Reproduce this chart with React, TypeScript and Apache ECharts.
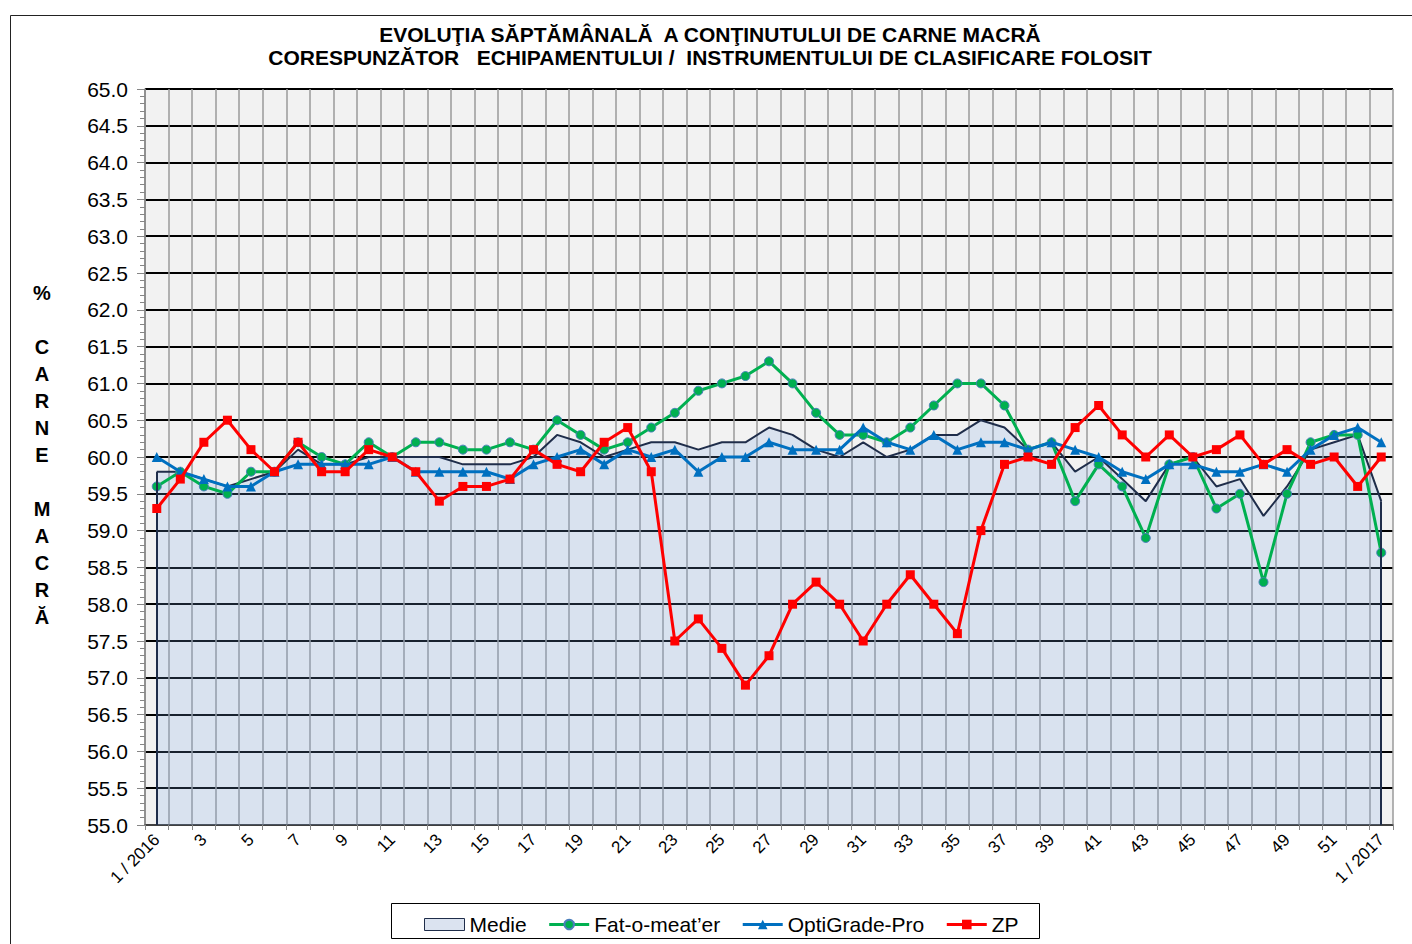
import React, { useEffect, useRef } from "react";
import * as echarts from "echarts";

const titleLines = [
  "EVOLUŢIA SĂPTĂMÂNALĂ  A CONŢINUTULUI DE CARNE MACRĂ",
  "CORESPUNZĂTOR   ECHIPAMENTULUI /  INSTRUMENTULUI DE CLASIFICARE FOLOSIT",
];
const yTitleChars = ["%", "", "C", "A", "R", "N", "E", "", "M", "A", "C", "R", "Ă"];

const categories: string[] = ["1 / 2016"];
for (let i = 2; i <= 52; i++) categories.push(String(i));
categories.push("1 / 2017");

const seriesNames = ["Medie", "Fat-o-meat’er", "OptiGrade-Pro", "ZP"];

const medie = [
  59.8, 59.8, 59.7, 59.6, 59.7, 59.8, 60.1, 59.9, 59.9, 60.0,
  60.0, 60.0, 60.0, 59.9, 59.9, 59.9, 60.0, 60.3, 60.2, 60.0,
  60.1, 60.2, 60.2, 60.1, 60.2, 60.2, 60.4, 60.3, 60.1, 60.0,
  60.2, 60.0, 60.1, 60.3, 60.3, 60.5, 60.4, 60.1, 60.2, 59.8,
  60.0, 59.7, 59.4, 59.9, 60.0, 59.6, 59.7, 59.2, 59.6, 60.1,
  60.2, 60.3, 59.4,
];
const fatOMeater = [
  59.6, 59.8, 59.6, 59.5, 59.8, 59.8, 60.2, 60.0, 59.9, 60.2,
  60.0, 60.2, 60.2, 60.1, 60.1, 60.2, 60.1, 60.5, 60.3, 60.1,
  60.2, 60.4, 60.6, 60.9, 61.0, 61.1, 61.3, 61.0, 60.6, 60.3,
  60.3, 60.2, 60.4, 60.7, 61.0, 61.0, 60.7, 60.1, 60.2, 59.4,
  59.9, 59.6, 58.9, 59.9, 60.0, 59.3, 59.5, 58.3, 59.5, 60.2,
  60.3, 60.3, 58.7,
];
const optiGrade = [
  60.0, 59.8, 59.7, 59.6, 59.6, 59.8, 59.9, 59.9, 59.9, 59.9,
  60.0, 59.8, 59.8, 59.8, 59.8, 59.7, 59.9, 60.0, 60.1, 59.9,
  60.1, 60.0, 60.1, 59.8, 60.0, 60.0, 60.2, 60.1, 60.1, 60.1,
  60.4, 60.2, 60.1, 60.3, 60.1, 60.2, 60.2, 60.1, 60.2, 60.1,
  60.0, 59.8, 59.7, 59.9, 59.9, 59.8, 59.8, 59.9, 59.8, 60.1,
  60.3, 60.4, 60.2,
];
const zp = [
  59.3, 59.7, 60.2, 60.5, 60.1, 59.8, 60.2, 59.8, 59.8, 60.1,
  60.0, 59.8, 59.4, 59.6, 59.6, 59.7, 60.1, 59.9, 59.8, 60.2,
  60.4, 59.8, 57.5, 57.8, 57.4, 56.9, 57.3, 58.0, 58.3, 58.0,
  57.5, 58.0, 58.4, 58.0, 57.6, 59.0, 59.9, 60.0, 59.9, 60.4,
  60.7, 60.3, 60.0, 60.3, 60.0, 60.1, 60.3, 59.9, 60.1, 59.9,
  60.0, 59.6, 60.0,
];

const yMin = 55;
const yMax = 65;
const yStep = 0.5;

const FONT = "'Liberation Sans', Arial, sans-serif";

export default function App() {
  const ref = useRef<HTMLDivElement>(null);

  useEffect(() => {
    if (!ref.current) return;
    const chart = echarts.init(ref.current, undefined, { renderer: "svg" });
    const last = categories.length - 1;
    const option: any = {
      animation: false,
      backgroundColor: "#ffffff",
      textStyle: { fontFamily: FONT },
      graphic: [
        {
          type: "rect",
          shape: { x: 10.5, y: 15.5, width: 1420, height: 960 },
          style: { fill: "none", stroke: "#222", lineWidth: 1 },
          silent: true,
          z: -10,
        },
        ...titleLines.map((t, i) => ({
          type: "text",
          x: 710,
          y: 34 + i * 23,
          style: {
            text: t,
            fill: "#000",
            font: `bold 21px ${FONT}`,
            textAlign: "center",
            textVerticalAlign: "middle",
          },
        })),
        {
          type: "text",
          x: 42,
          y: 455,
          style: {
            text: yTitleChars.join("\n"),
            fill: "#000",
            font: `bold 20px ${FONT}`,
            lineHeight: 27,
            textAlign: "center",
            textVerticalAlign: "middle",
          },
        },
        {
          type: "rect",
          shape: { x: 391.5, y: 903.5, width: 648, height: 35 },
          style: { fill: "#fff", stroke: "#000", lineWidth: 1 },
          z: 0,
        },
      ],
      grid: {
        left: 145,
        right: 19,
        top: 89,
        bottom: 119,
        show: true,
        backgroundColor: "#f2f2f2",
        borderWidth: 0,
      },
      legend: {
        left: 419,
        top: 909,
        itemGap: 21,
        itemWidth: 40,
        itemHeight: 12,
        z: 5,
        textStyle: { fontSize: 21, color: "#000" },
        data: [
          {
            name: seriesNames[0],
            icon: "rect",
            itemStyle: { color: "#dbe3f0", borderColor: "#1f2d4a", borderWidth: 1 },
          },
          { name: seriesNames[1], lineStyle: { width: 3 } },
          { name: seriesNames[2], lineStyle: { width: 3 } },
          { name: seriesNames[3], lineStyle: { width: 3 } },
        ],
      },
      xAxis: {
        type: "category",
        data: categories,
        boundaryGap: true,
        axisLine: { show: true, lineStyle: { color: "#555", width: 1.5 } },
        axisTick: { show: true, interval: 0, length: 5, lineStyle: { color: "#888" } },
        axisLabel: {
          interval: 1,
          rotate: 45,
          fontSize: 17,
          color: "#000",
          margin: 12,
          fontFamily: FONT,
        },
        splitLine: { show: true, interval: 0, lineStyle: { color: "#9a9a9a", width: 1.5 } },
      },
      yAxis: {
        type: "value",
        min: yMin,
        max: yMax,
        interval: yStep,
        axisLine: { show: true, lineStyle: { color: "#868686", width: 1.5 } },
        axisTick: { show: true, length: 8, lineStyle: { color: "#868686" } },
        minorTick: { show: true, splitNumber: 5, length: 5, lineStyle: { color: "#868686" } },
        axisLabel: {
          fontSize: 21,
          color: "#000",
          margin: 17,
          fontFamily: FONT,
          formatter: (v: number) => v.toFixed(1),
        },
        splitLine: { show: true, lineStyle: { color: "#000", width: 2 } },
      },
      series: [
        {
          name: seriesNames[0],
          type: "line",
          data: medie,
          symbol: "none",
          lineStyle: { color: "#1f2d4a", width: 2 },
          itemStyle: { color: "#1f2d4a" },
          areaStyle: { color: "#7aa7e8", opacity: 0.2, origin: "start" },
          z: 2,
          markLine: {
            silent: true,
            symbol: "none",
            label: { show: false },
            lineStyle: { color: "#1f2d4a", width: 2, type: "solid" },
            data: [
              [{ coord: [0, yMin] }, { coord: [0, medie[0]] }],
              [{ coord: [last, yMin] }, { coord: [last, medie[last]] }],
            ],
          },
        },
        {
          name: seriesNames[1],
          type: "line",
          data: fatOMeater,
          symbol: "circle",
          symbolSize: 9,
          lineStyle: { color: "#00b050", width: 3 },
          itemStyle: { color: "#00b050", borderColor: "#4a7ebb", borderWidth: 1 },
          z: 3,
        },
        {
          name: seriesNames[2],
          type: "line",
          data: optiGrade,
          symbol: "triangle",
          symbolSize: 10,
          lineStyle: { color: "#0070c0", width: 3 },
          itemStyle: { color: "#0070c0" },
          z: 4,
        },
        {
          name: seriesNames[3],
          type: "line",
          data: zp,
          symbol: "rect",
          symbolSize: 9,
          lineStyle: { color: "#ff0000", width: 3 },
          itemStyle: { color: "#ff0000" },
          z: 5,
        },
      ],
    };
    chart.setOption(option);
    return () => chart.dispose();
  }, []);

  return (
    <div
      ref={ref}
      style={{ position: "absolute", left: 0, top: 0, width: 1412, height: 944 }}
    />
  );
}
